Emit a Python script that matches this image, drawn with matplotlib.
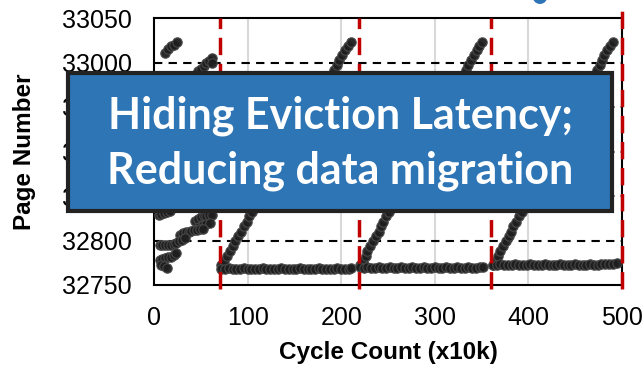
import matplotlib.pyplot as plt
from matplotlib.patches import Rectangle, Ellipse

# early phase: scattered page accesses before the first eviction
early_cycles = [12, 15, 18, 21, 25,
                40, 44, 47, 50, 53, 56, 59, 62, 62,
                5, 8, 11, 14, 17,
                44, 47, 50, 53, 56, 59, 62, 48, 52, 56, 60,
                28, 31, 34, 37, 40, 43, 46, 49, 52,
                6, 9, 12, 15, 18, 21, 24, 27, 30, 33,
                6, 9, 12, 15, 18, 21, 24,
                8, 11, 14]
early_pages = [33011, 33015, 33018, 33020, 33023,
               32982, 32986, 32990, 32993, 32996, 32999, 33002, 33005, 33000,
               32829, 32830, 32831, 32832, 32833,
               32822, 32824, 32826, 32827, 32828, 32829, 32829, 32815, 32817, 32819, 32820,
               32806, 32808, 32809, 32810, 32811, 32812, 32812, 32813, 32813,
               32795, 32795, 32795, 32795, 32795, 32796, 32797, 32799, 32801, 32803,
               32778, 32779, 32780, 32781, 32782, 32784, 32786,
               32773, 32771, 32769]

# sequential sweep over the migrated pages, repeated after each eviction
sweep_pages = [32772, 32777, 32783, 32788, 32794, 32799, 32805, 32810, 32816, 32821,
               32827, 32832, 32838, 32843, 32849, 32854, 32860, 32865, 32871, 32876,
               32882, 32887, 32893, 32898, 32904, 32909, 32915, 32920, 32926, 32931,
               32937, 32942, 32948, 32953, 32959, 32964, 32970, 32975, 32981, 32986,
               32992, 32997, 33003, 33008, 33014, 33019, 33023]
sweep1_cycles = [72, 75, 78, 81, 84, 87, 90, 93, 96, 99, 102, 105, 108, 111, 114, 117,
                 120, 123, 126, 129, 132, 135, 138, 141, 144, 147, 150, 153, 156, 159,
                 162, 165, 168, 171, 174, 177, 180, 183, 186, 189, 192, 195, 198, 201,
                 204, 207, 210]
sweep2_cycles = [220, 223, 226, 228, 231, 234, 237, 240, 243, 245, 248, 251, 254, 257,
                 260, 262, 265, 268, 271, 274, 277, 279, 282, 285, 288, 291, 294, 296,
                 299, 302, 305, 308, 311, 313, 316, 319, 322, 325, 328, 330, 333, 336,
                 339, 342, 345, 347, 350]
sweep3_cycles = [362, 365, 368, 370, 373, 376, 379, 381, 384, 387, 390, 393, 395, 398,
                 401, 404, 406, 409, 412, 415, 418, 420, 423, 426, 429, 431, 434, 437,
                 440, 443, 445, 448, 451, 454, 456, 459, 462, 465, 468, 470, 473, 476,
                 479, 481, 484, 487, 490]

# hot page hit over and over between evictions
hot1_cycles = [72, 76, 80, 84, 88, 92, 96, 100, 104, 108, 112, 116, 120, 124, 128, 132,
               136, 140, 144, 148, 152, 156, 160, 164, 168, 172, 176, 180, 184, 188,
               192, 196, 200, 204, 208, 211]
hot1_pages = [32768, 32768, 32769, 32768, 32768, 32768, 32769, 32768, 32768, 32768,
              32768, 32769, 32768, 32768, 32768, 32768, 32769, 32768, 32768, 32768,
              32768, 32769, 32768, 32768, 32768, 32768, 32769, 32768, 32768, 32768,
              32768, 32769, 32768, 32768, 32768, 32769]
hot2_cycles = [220, 224, 228, 232, 236, 240, 244, 248, 252, 256, 260, 264, 268, 272,
               276, 280, 284, 288, 292, 296, 300, 304, 308, 312, 316, 320, 324, 328,
               332, 336, 340, 344, 348, 351]
hot2_pages = [32770, 32769, 32770, 32769, 32769, 32770, 32769, 32769, 32770, 32769,
              32769, 32770, 32769, 32769, 32770, 32769, 32769, 32770, 32769, 32769,
              32770, 32769, 32769, 32770, 32769, 32769, 32770, 32769, 32769, 32770,
              32769, 32769, 32770, 32770]
hot3_cycles = [362, 366, 370, 374, 378, 382, 386, 390, 394, 398, 402, 406, 410, 414,
               418, 422, 426, 430, 434, 438, 442, 446, 450, 454, 458, 462, 466, 470,
               474, 478, 482, 486, 490, 495]
hot3_pages = [32773, 32773, 32774, 32773, 32773, 32773, 32774, 32773, 32773, 32773,
              32774, 32773, 32773, 32773, 32774, 32773, 32773, 32773, 32774, 32773,
              32773, 32773, 32774, 32773, 32773, 32773, 32774, 32773, 32773, 32774,
              32774, 32774, 32774, 32775]

evictions = [70, 219, 360, 500]
page_marks = [32800, 32850, 32900, 32950, 33000]

plt.rcParams['font.family'] = ['Liberation Sans', 'DejaVu Sans']

fig = plt.figure(figsize=(6.44, 3.71), dpi=100)
ax = fig.add_axes([154 / 644, 86 / 371, 468 / 644, 267 / 371])

for x in [100, 200, 300, 400]:
    ax.axvline(x, color='#d9d9d9', lw=1.5, zorder=0)
for y in page_marks:
    ax.axhline(y, color='black', lw=1.5, ls=(0, (4, 3)), zorder=1)

pt_style = dict(s=46, c='#1e1e1e', edgecolors='#4a4a4a', linewidths=0.8,
                alpha=0.95, zorder=3)
ax.scatter(early_cycles, early_pages, **pt_style)
for cx in [sweep1_cycles, sweep2_cycles, sweep3_cycles]:
    ax.scatter(cx, sweep_pages, **pt_style)
ax.scatter(hot1_cycles, hot1_pages, **pt_style)
ax.scatter(hot2_cycles, hot2_pages, **pt_style)
ax.scatter(hot3_cycles, hot3_pages, **pt_style)

for x in evictions:
    ax.plot([x, x], [32745, 33059 if x == 500 else 33050], color='#c00000', lw=2.5,
            ls=(0, (5, 2.5)), zorder=4, clip_on=False)

ax.set_xlim(0, 500)
ax.set_ylim(32750, 33050)
ax.set_xticks([0, 100, 200, 300, 400, 500])
ax.set_yticks([32750, 32800, 32850, 32900, 32950, 33000, 33050])
ax.tick_params(length=0, labelsize=18)
ax.tick_params(axis='y', pad=16)
ax.tick_params(axis='x', pad=15)
for s in ax.spines.values():
    s.set_linewidth(1.5)

ax.set_xlabel('Cycle Count (x10k)', fontsize=17.5, fontweight='bold')
ax.set_ylabel('Page Number', fontsize=17.5, fontweight='bold')
ax.xaxis.set_label_coords(0.5, (285 - 341) / 267)
ax.yaxis.set_label_coords((36 - 154) / 468, 0.5)

# callout box over the plot
fig.patches.append(Rectangle((68 / 644, 1 - 211 / 371), 544 / 644, 138 / 371,
                             transform=fig.transFigure, facecolor='#2e75b6',
                             edgecolor='#222222', lw=3, zorder=10))
fig.text(340 / 644, 1 - 143 / 371, 'Hiding Eviction Latency;\nReducing data migration',
         ha='center', va='center', color='white', fontsize=31, fontweight='bold',
         family=['Lato', 'DejaVu Sans'], linespacing=1.45, zorder=11)
fig.patches.append(Ellipse((540 / 644, 1 + 4 / 371), 15 / 644, 16 / 371,
                           transform=fig.transFigure, facecolor='#2e75b6',
                           edgecolor='none', zorder=10))

fig.savefig('out.png', dpi=100)
